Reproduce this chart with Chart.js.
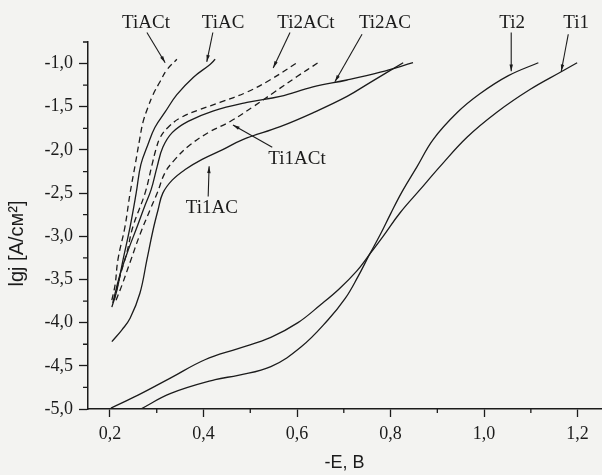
<!DOCTYPE html>
<html>
<head>
<meta charset="utf-8">
<script src="https://cdn.jsdelivr.net/npm/chart.js@4.4.1/dist/chart.umd.min.js"></script>
<style>
  html, body { margin: 0; padding: 0; background: #f3f3f1; }
</style>
</head>
<body>
<canvas id="polarization" width="602" height="475"></canvas>
<script>
// Polarization curves: -E (V) against lg j (A/cm2)
const tiACtE  = [0.204, 0.211, 0.217, 0.232, 0.243, 0.254, 0.264, 0.271, 0.281, 0.292, 0.307, 0.322, 0.343];
const tiACtLg = [-3.74, -3.56, -3.27, -2.89, -2.50, -2.17, -1.86, -1.67, -1.51, -1.36, -1.21, -1.07, -0.95];

const tiACE  = [0.204, 0.215, 0.228, 0.243, 0.256, 0.266, 0.281, 0.296, 0.318, 0.343, 0.378, 0.414, 0.425];
const tiACLg = [-3.82, -3.62, -3.27, -2.89, -2.50, -2.17, -1.94, -1.74, -1.56, -1.36, -1.16, -1.01, -0.95];

const ti2ACtE  = [0.209, 0.221, 0.236, 0.249, 0.275, 0.290, 0.298, 0.307, 0.324, 0.350, 0.393, 0.435, 0.493, 0.542, 0.600];
const ti2ACtLg = [-3.74, -3.47, -3.19, -2.89, -2.50, -2.17, -2.00, -1.86, -1.74, -1.63, -1.53, -1.45, -1.33, -1.19, -0.99];

const ti2ACE  = [0.206, 0.221, 0.239, 0.258, 0.275, 0.288, 0.301, 0.313, 0.333, 0.367, 0.420, 0.493, 0.564, 0.634, 0.707, 0.778, 0.848];
const ti2ACLg = [-3.77, -3.45, -3.16, -2.89, -2.64, -2.46, -2.19, -1.97, -1.80, -1.67, -1.55, -1.45, -1.38, -1.27, -1.19, -1.10, -0.99];

const ti1ACtE  = [0.213, 0.226, 0.243, 0.264, 0.286, 0.301, 0.318, 0.339, 0.367, 0.410, 0.457, 0.506, 0.549, 0.600, 0.645];
const ti1ACtLg = [-3.74, -3.56, -3.30, -2.98, -2.69, -2.50, -2.26, -2.11, -1.96, -1.80, -1.67, -1.50, -1.34, -1.15, -0.99];

const ti1ACE  = [0.204, 0.226, 0.243, 0.264, 0.279, 0.292, 0.303, 0.313, 0.333, 0.360, 0.397, 0.440, 0.484, 0.564, 0.634, 0.707, 0.756, 0.827];
const ti1ACLg = [-4.22, -4.08, -3.95, -3.66, -3.27, -2.93, -2.69, -2.50, -2.35, -2.23, -2.11, -2.00, -1.88, -1.73, -1.57, -1.38, -1.22, -0.99];

const ti1E  = [0.202, 0.260, 0.330, 0.403, 0.474, 0.544, 0.602, 0.651, 0.690, 0.728, 0.755, 0.784, 0.820, 0.863, 0.906, 0.964, 1.028, 1.098, 1.163, 1.199];
const ti1Lg = [-4.99, -4.84, -4.64, -4.43, -4.30, -4.17, -4.00, -3.79, -3.61, -3.40, -3.21, -3.00, -2.73, -2.46, -2.19, -1.85, -1.56, -1.30, -1.10, -0.99];

const ti2E  = [0.266, 0.330, 0.425, 0.474, 0.544, 0.609, 0.666, 0.703, 0.730, 0.755, 0.778, 0.800, 0.825, 0.857, 0.891, 0.942, 0.991, 1.052, 1.116];
const ti2Lg = [-5.00, -4.82, -4.66, -4.61, -4.51, -4.28, -3.97, -3.72, -3.47, -3.21, -2.98, -2.74, -2.48, -2.19, -1.88, -1.57, -1.35, -1.14, -0.99];

// Axis ticks
const xTicks = [0.2, 0.4, 0.6, 0.8, 1.0, 1.2];
const xMinorTicks = [0.3, 0.5, 0.7, 0.9, 1.1];
const yTicks = [-5.0, -4.5, -4.0, -3.5, -3.0, -2.5, -2.0, -1.5, -1.0];
const yMinorTicks = [-4.75, -4.25, -3.75, -3.25, -2.75, -2.25, -1.75, -1.25, -0.75];

const ink = '#1b1b1b';

const series = [
  { name: 'TiACt',  e: tiACtE,  lg: tiACtLg,  dashed: true },
  { name: 'TiAC',   e: tiACE,   lg: tiACLg,   dashed: false },
  { name: 'Ti2ACt', e: ti2ACtE, lg: ti2ACtLg, dashed: true },
  { name: 'Ti2AC',  e: ti2ACE,  lg: ti2ACLg,  dashed: false },
  { name: 'Ti1ACt', e: ti1ACtE, lg: ti1ACtLg, dashed: true },
  { name: 'Ti1AC',  e: ti1ACE,  lg: ti1ACLg,  dashed: false },
  { name: 'Ti1',    e: ti1E,    lg: ti1Lg,    dashed: false },
  { name: 'Ti2',    e: ti2E,    lg: ti2Lg,    dashed: false }
];

// Curve labels with arrows (label, arrow tail, arrow tip) in data units
const callouts = [
  { text: 'TiACt',  at: [0.277, -0.53], from: [0.279, -0.64], to: [0.318, -0.99] },
  { text: 'TiAC',   at: [0.442, -0.53], from: [0.420, -0.64], to: [0.407, -0.98] },
  { text: 'Ti2ACt', at: [0.619, -0.53], from: [0.585, -0.64], to: [0.549, -1.05] },
  { text: 'Ti2AC',  at: [0.788, -0.53], from: [0.739, -0.66], to: [0.681, -1.21] },
  { text: 'Ti2',    at: [1.060, -0.53], from: [1.058, -0.64], to: [1.058, -1.09] },
  { text: 'Ti1',    at: [1.197, -0.53], from: [1.180, -0.66], to: [1.165, -1.09] },
  { text: 'Ti1ACt', at: [0.600, -2.10], from: [0.547, -1.97], to: [0.463, -1.71] },
  { text: 'Ti1AC',  at: [0.418, -2.67], from: [0.410, -2.54], to: [0.412, -2.19] }
];

function formatComma(v) {
  return v.toFixed(1).replace('.', ',');
}

// Short ticks between the labelled ones
const minorTicks = {
  id: 'minorTicks',
  afterDraw(chart) {
    const { ctx, scales: { x, y } } = chart;
    ctx.save();
    ctx.strokeStyle = ink;
    ctx.lineWidth = 1.3;
    ctx.beginPath();
    xMinorTicks.forEach(v => {
      const px = x.getPixelForValue(v);
      ctx.moveTo(px, x.top);
      ctx.lineTo(px, x.top + 4);
    });
    yMinorTicks.forEach(v => {
      const py = y.getPixelForValue(v);
      ctx.moveTo(y.right, py);
      ctx.lineTo(y.right - 5, py);
    });
    ctx.stroke();
    ctx.restore();
  }
};

// Curve names, arrows and the rotated y title
const labels = {
  id: 'labels',
  afterDraw(chart) {
    const { ctx, scales: { x, y }, chartArea } = chart;
    ctx.save();
    ctx.fillStyle = ink;
    ctx.strokeStyle = ink;
    ctx.lineWidth = 1.1;
    ctx.font = '19px "Liberation Serif", serif';
    ctx.textAlign = 'center';
    ctx.textBaseline = 'middle';
    callouts.forEach(c => {
      ctx.fillText(c.text, x.getPixelForValue(c.at[0]), y.getPixelForValue(c.at[1]));
      const x0 = x.getPixelForValue(c.from[0]), y0 = y.getPixelForValue(c.from[1]);
      const x1 = x.getPixelForValue(c.to[0]), y1 = y.getPixelForValue(c.to[1]);
      ctx.beginPath();
      ctx.moveTo(x0, y0);
      ctx.lineTo(x1, y1);
      ctx.stroke();
      const ang = Math.atan2(y1 - y0, x1 - x0);
      ctx.beginPath();
      ctx.moveTo(x1, y1);
      ctx.lineTo(x1 - 7 * Math.cos(ang - 0.25), y1 - 7 * Math.sin(ang - 0.25));
      ctx.lineTo(x1 - 7 * Math.cos(ang + 0.25), y1 - 7 * Math.sin(ang + 0.25));
      ctx.closePath();
      ctx.fill();
    });

    ctx.font = '20px "Liberation Sans", Arial, sans-serif';
    ctx.translate(17, (chartArea.top + chartArea.bottom) / 2 + 18);
    ctx.rotate(-Math.PI / 2);
    ctx.fillText('lgj [A/см²]', 0, 0);
    ctx.restore();
  }
};

const ctx = document.getElementById('polarization').getContext('2d');
const chart = new Chart(ctx, {
  type: 'line',
  data: {
    datasets: series.map(s => ({
      label: s.name,
      data: s.e.map((e, i) => ({ x: e, y: s.lg[i] })),
      borderColor: ink,
      borderWidth: 1.3,
      borderDash: s.dashed ? [6, 4] : [],
      pointRadius: 0,
      fill: false,
      tension: 0.4
    }))
  },
  options: {
    responsive: false,
    animation: false,
    layout: { padding: { top: 42, right: 1, left: 0, bottom: 0 } },
    plugins: {
      legend: { display: false },
      tooltip: { enabled: false }
    },
    scales: {
      x: {
        type: 'linear',
        min: 0.153,
        max: 1.25,
        afterBuildTicks: scale => { scale.ticks = xTicks.map(v => ({ value: v })); },
        afterFit: scale => { scale.height = 66; },
        border: { display: true, color: ink, width: 1.5 },
        grid: { drawOnChartArea: false, drawTicks: true, tickLength: 8, tickColor: ink, tickWidth: 1.3 },
        ticks: {
          color: ink,
          padding: 6,
          maxRotation: 0,
          font: { family: '"Liberation Serif", serif', size: 18 },
          callback: v => formatComma(v)
        },
        title: {
          display: true,
          text: '-E, B',
          color: ink,
          padding: { top: 0, bottom: 1 },
          font: { family: '"Liberation Sans", Arial, sans-serif', size: 18 }
        }
      },
      y: {
        type: 'linear',
        min: -5.0,
        max: -0.75,
        afterBuildTicks: scale => { scale.ticks = yTicks.map(v => ({ value: v })); },
        afterFit: scale => { scale.width = 88; },
        border: { display: true, color: ink, width: 1.5 },
        grid: { drawOnChartArea: false, drawTicks: true, tickLength: 9, tickColor: ink, tickWidth: 1.3 },
        ticks: {
          color: ink,
          padding: 6,
          font: { family: '"Liberation Serif", serif', size: 18 },
          callback: v => formatComma(v)
        }
      }
    }
  },
  plugins: [minorTicks, labels]
});
</script>
</body>
</html>
